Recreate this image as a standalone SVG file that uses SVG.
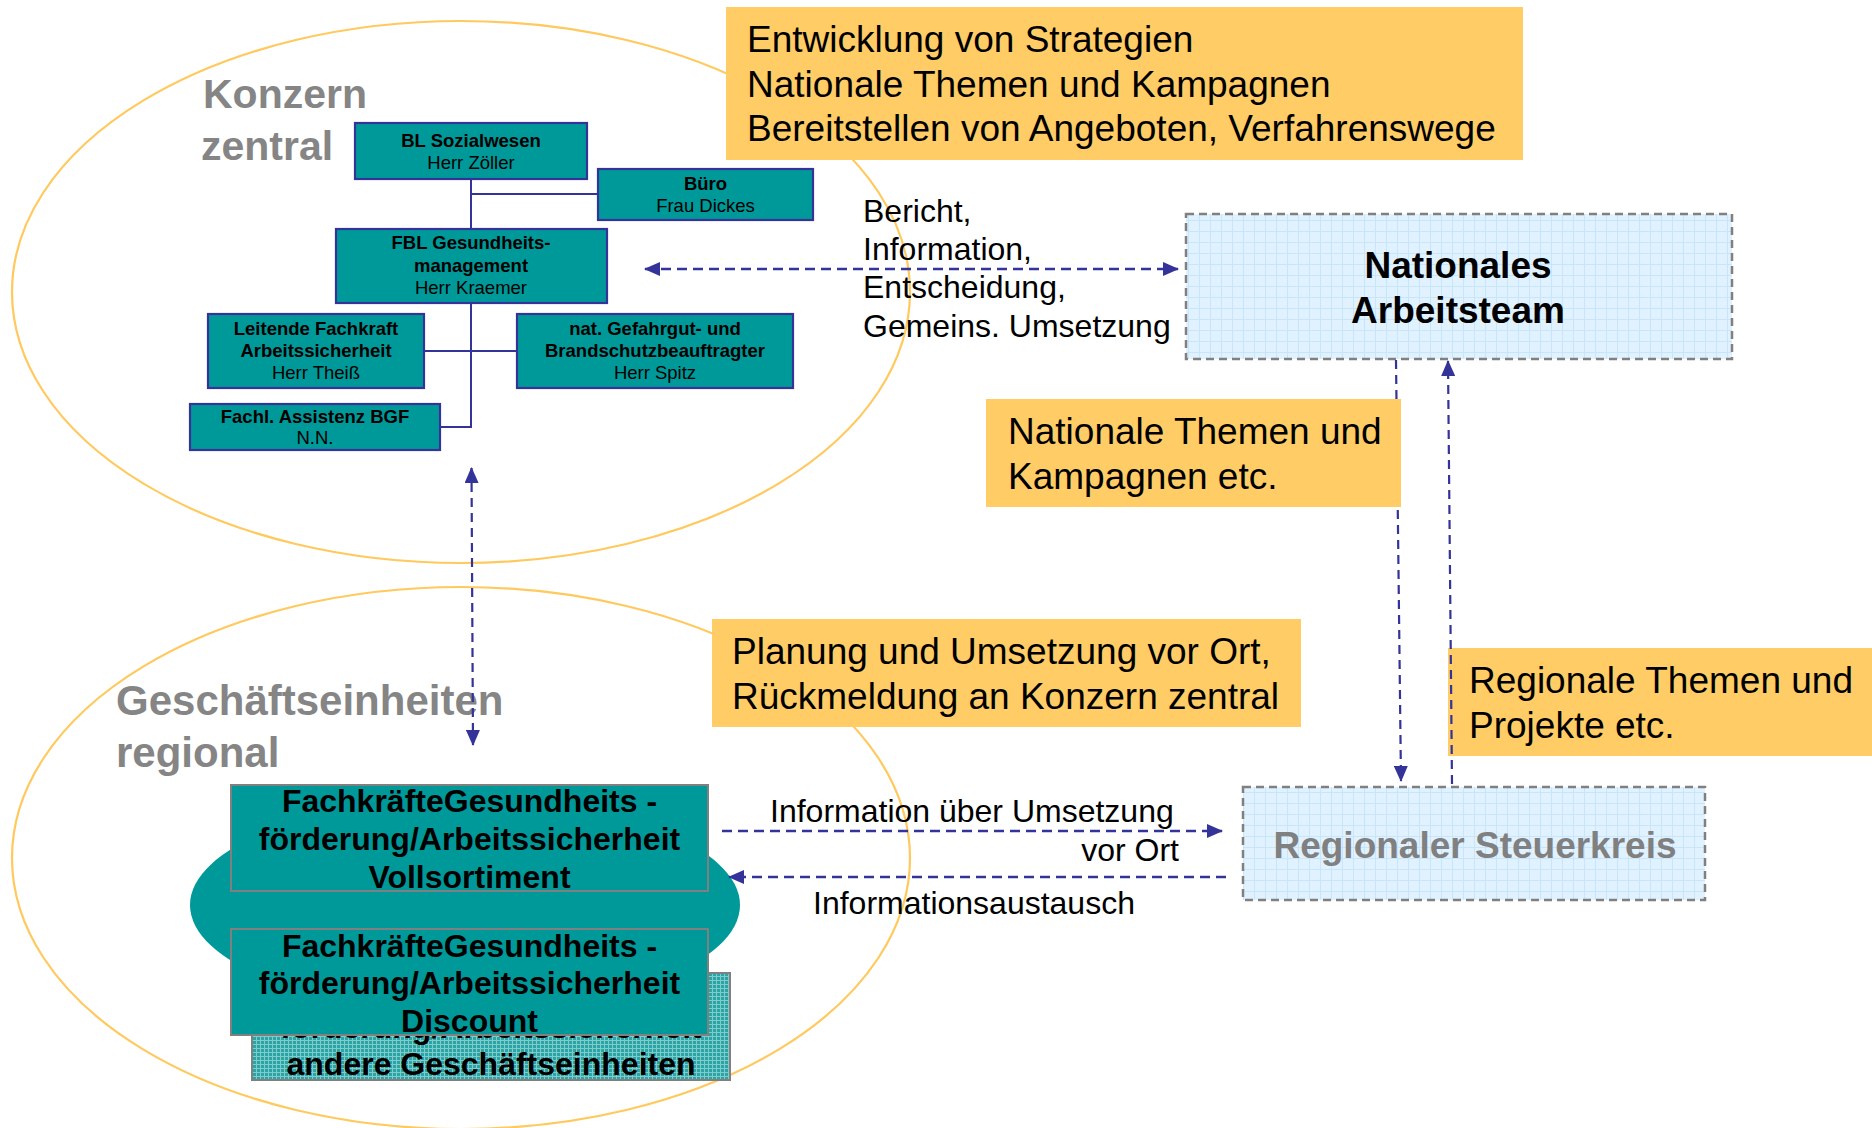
<svg xmlns="http://www.w3.org/2000/svg" width="1872" height="1128" viewBox="0 0 1872 1128">
<style>
text{font-family:"Liberation Sans",Arial,sans-serif;}
.region{fill:none;stroke:#FFC95E;stroke-width:2.2;}
.rlabel{font-size:41px;font-weight:bold;fill:#858585;}
.org{fill:#009999;stroke:#333399;stroke-width:2.2;}
.ob{font-size:18.5px;font-weight:bold;fill:#000;text-anchor:middle;}
.on{font-size:18.5px;fill:#000;text-anchor:middle;}
.orgline{fill:none;stroke:#333399;stroke-width:2;}
.note{fill:#FFCC66;}
.nt{font-size:37px;fill:#000;}
.team{fill:url(#gridBlue);stroke:#808080;stroke-width:2.5;stroke-dasharray:8 5;}
.ge{fill:#009999;stroke:#808080;stroke-width:2;}
.gt{font-size:32px;font-weight:bold;fill:#000;text-anchor:middle;}
.lbl{font-size:32px;fill:#000;}
.dash{fill:none;stroke:#333399;stroke-width:2.5;stroke-dasharray:10 6;}
.vdash{fill:none;stroke:#333399;stroke-width:2.2;stroke-dasharray:9 6;}
</style>
<defs>
<pattern id="gridBlue" width="11" height="11" patternUnits="userSpaceOnUse">
<rect width="11" height="11" fill="#E0F2FF"/>
<path d="M0,0.5H11M0.5,0V11" stroke="#C9E5F9" stroke-width="1"/>
</pattern>
<pattern id="gridTeal" width="4" height="4" patternUnits="userSpaceOnUse">
<rect width="4" height="4" fill="#2AA4A4"/>
<path d="M0,0.5H4M0.5,0V4" stroke="#80CCCC" stroke-width="1"/>
</pattern>
<marker id="ah" markerUnits="userSpaceOnUse" markerWidth="16" markerHeight="14" refX="15" refY="7" orient="auto-start-reverse">
<path d="M0,0L16,7L0,14z" fill="#333399"/>
</marker>
</defs>

<g id="region-konzern">
<ellipse class="region" cx="461" cy="292" rx="449" ry="271"/>
<text class="rlabel" x="203" y="108">Konzern</text>
<text class="rlabel" x="201" y="160">zentral</text>
</g>
<g id="region-regional">
<ellipse class="region" cx="461" cy="858" rx="449" ry="271"/>
<text class="rlabel" x="116" y="715" style="font-size:42px">Geschäftseinheiten</text>
<text class="rlabel" x="116" y="767" style="font-size:42px">regional</text>
<ellipse cx="465" cy="905" rx="275" ry="106" fill="#009999"/>
</g>

<g id="bl-sozialwesen">
<rect class="org" x="355" y="123" width="232" height="56"/>
<text class="ob" x="471" y="147">BL Sozialwesen</text>
<text class="on" x="471" y="169">Herr Zöller</text>
</g>
<g id="buero">
<rect class="org" x="598" y="169" width="215" height="51"/>
<text class="ob" x="705.5" y="190">Büro</text>
<text class="on" x="705.5" y="212">Frau Dickes</text>
</g>
<g id="fbl-gesundheitsmanagement">
<rect class="org" x="336" y="229" width="271" height="74"/>
<text class="ob" x="471" y="249">FBL Gesundheits-</text>
<text class="ob" x="471" y="272">management</text>
<text class="on" x="471" y="294">Herr Kraemer</text>
</g>
<g id="leitende-fachkraft">
<rect class="org" x="208" y="314" width="216" height="74"/>
<text class="ob" x="316" y="335">Leitende Fachkraft</text>
<text class="ob" x="316" y="357">Arbeitssicherheit</text>
<text class="on" x="316" y="379">Herr Theiß</text>
</g>
<g id="gefahrgut-brandschutz">
<rect class="org" x="517" y="314" width="276" height="74"/>
<text class="ob" x="655" y="335">nat. Gefahrgut- und</text>
<text class="ob" x="655" y="357">Brandschutzbeauftragter</text>
<text class="on" x="655" y="379">Herr Spitz</text>
</g>
<g id="fachl-assistenz">
<rect class="org" x="190" y="404" width="250" height="46"/>
<text class="ob" x="315" y="423">Fachl. Assistenz BGF</text>
<text class="on" x="315" y="444">N.N.</text>
</g>

<g id="nationales-arbeitsteam">
<rect class="team" x="1186" y="214" width="546" height="145"/>
<text x="1458" y="278" style="font-size:37px;font-weight:bold;text-anchor:middle">Nationales</text>
<text x="1458" y="323" style="font-size:37px;font-weight:bold;text-anchor:middle">Arbeitsteam</text>
</g>
<g id="regionaler-steuerkreis">
<rect class="team" x="1243" y="787" width="462" height="113"/>
<text x="1475" y="858" style="font-size:37px;font-weight:bold;fill:#808080;text-anchor:middle">Regionaler Steuerkreis</text>
</g>

<g id="ge-andere">
<rect x="252" y="973" width="478" height="107" fill="url(#gridTeal)" stroke="#808080" stroke-width="2"/>
<text class="gt" x="491" y="1038">förderung/Arbeitssicherheit</text>
<text class="gt" x="491" y="1075">andere Geschäftseinheiten</text>
</g>
<g id="ge-vollsortiment">
<rect class="ge" x="231" y="785" width="477" height="106"/>
<text class="gt" x="469.5" y="812">FachkräfteGesundheits -</text>
<text class="gt" x="469.5" y="850">förderung/Arbeitssicherheit</text>
<text class="gt" x="469.5" y="888">Vollsortiment</text>
</g>
<g id="ge-discount">
<rect class="ge" x="231" y="929" width="477" height="106"/>
<text class="gt" x="469.5" y="957">FachkräfteGesundheits -</text>
<text class="gt" x="469.5" y="994">förderung/Arbeitssicherheit</text>
<text class="gt" x="469.5" y="1032">Discount</text>
</g>

<g id="note-strategien">
<rect class="note" x="726" y="7" width="797" height="153"/>
<text class="nt" x="747" y="52">Entwicklung von Strategien</text>
<text class="nt" x="747" y="97">Nationale Themen und Kampagnen</text>
<text class="nt" x="747" y="141">Bereitstellen von Angeboten, Verfahrenswege</text>
</g>
<g id="note-planung">
<rect class="note" x="712" y="619" width="589" height="108"/>
<text class="nt" x="732" y="664">Planung und Umsetzung vor Ort,</text>
<text class="nt" x="732" y="709">Rückmeldung an Konzern zentral</text>
</g>
<g id="note-regionale-themen">
<rect class="note" x="1448" y="648" width="424" height="108"/>
<text class="nt" x="1469" y="693">Regionale Themen und</text>
<text class="nt" x="1469" y="738">Projekte etc.</text>
</g>

<g id="connectors">
<path class="orgline" d="M471,179V229M471,194H598M471,303V427H440M424,351H517"/>
<path class="dash" d="M645,269H1178" marker-start="url(#ah)" marker-end="url(#ah)"/>
<path class="vdash" d="M471.5,468L473,745" marker-start="url(#ah)" marker-end="url(#ah)"/>
<path class="vdash" d="M1396,360L1401,781" marker-end="url(#ah)"/>
<path class="vdash" d="M1452,784L1448,361" marker-end="url(#ah)"/>
<path class="dash" d="M722,831H1222" marker-end="url(#ah)"/>
<path class="dash" d="M1226,877H729" marker-end="url(#ah)"/>
<text class="lbl" x="863" y="222">Bericht,</text>
<text class="lbl" x="863" y="260">Information,</text>
<text class="lbl" x="863" y="298">Entscheidung,</text>
<text class="lbl" x="863" y="337">Gemeins. Umsetzung</text>
<text class="lbl" x="770" y="822">Information über Umsetzung</text>
<text class="lbl" x="1179" y="861" text-anchor="end">vor Ort</text>
<text class="lbl" x="813" y="914">Informationsaustausch</text>
</g>

<g id="note-nationale-themen">
<rect class="note" x="986" y="399" width="415" height="108"/>
<text class="nt" x="1008" y="444">Nationale Themen und</text>
<text class="nt" x="1008" y="489">Kampagnen etc.</text>
</g>
</svg>
